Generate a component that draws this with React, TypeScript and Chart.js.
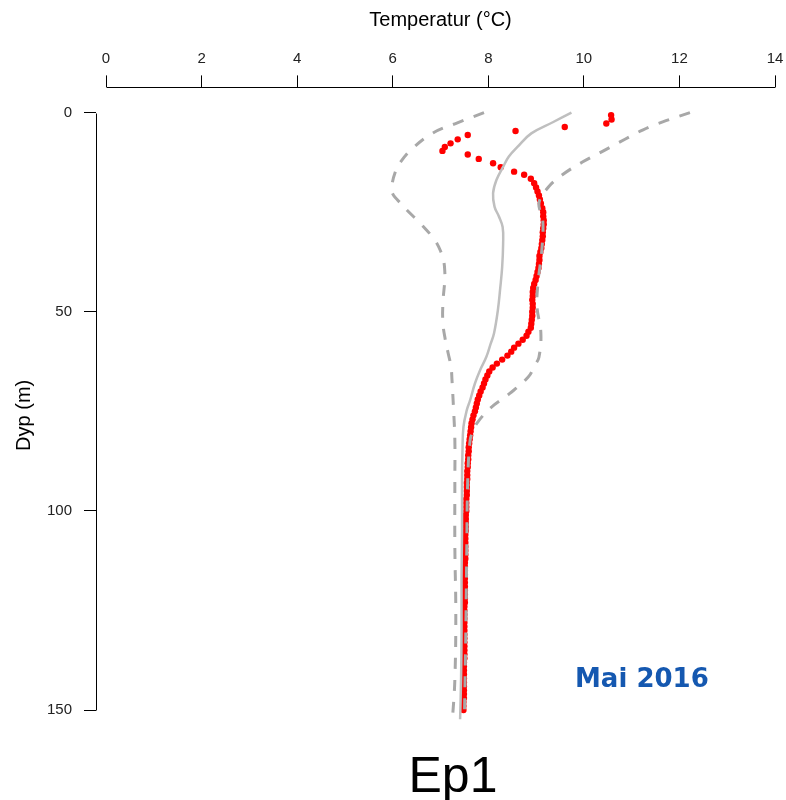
import { useEffect, useRef } from "react";
import { Chart, registerables } from "chart.js";

Chart.register(...registerables);

// ---- Data (temperature °C vs depth m) ----
const obsDepth = [
  0.6, 1.7, 2.7, 3.6, 4.6, 5.6, 6.7, 7.7, 8.6, 9.6, 10.5, 11.6, 12.7, 13.7, 14.8, 15.6, 16.6, 17.7, 18.8, 19.8, 20.8, 21.8, 22.8,
  24, 25, 26, 27, 28, 29, 30, 31, 32, 33,
  34, 35, 36, 37, 38, 39, 40, 41, 42, 43,
  44, 45, 46, 47, 48, 49, 50, 51, 52, 53,
  54, 55, 56, 57, 58, 59, 60, 61, 62, 63,
  64, 65, 66, 67, 68, 69, 70, 71, 72, 73,
  74, 75, 76, 77, 78, 79, 80, 81, 82, 83,
  84, 85, 86, 87, 88, 89, 90, 91, 92, 93,
  94, 95, 96, 97, 98, 99, 100, 101, 102, 103,
  104, 105, 106, 107, 108, 109, 110, 111, 112, 113,
  114, 115, 116, 117, 118, 119, 120, 121, 122, 123,
  124, 125, 126, 127, 128, 129, 130, 131, 132, 133,
  134, 135, 136, 137, 138, 139, 140, 141, 142, 143,
  144, 145, 146, 147, 148, 149, 150,
];
const obsTemp = [
  10.57, 10.58, 10.47, 9.6, 8.57, 7.57, 7.36, 7.21, 7.09, 7.04, 7.57, 7.8, 8.1, 8.26, 8.54, 8.75, 8.89, 8.96, 9.0, 9.03, 9.06, 9.08, 9.1,
  9.13, 9.15, 9.15, 9.16, 9.16, 9.15, 9.14, 9.14, 9.13, 9.12,
  9.11, 9.09, 9.07, 9.07, 9.06, 9.05, 9.03, 9.01, 8.99, 8.96,
  8.94, 8.93, 8.93, 8.92, 8.93, 8.93, 8.92, 8.92, 8.91, 8.9,
  8.89, 8.84, 8.8, 8.72, 8.63, 8.54, 8.48, 8.4, 8.29, 8.18,
  8.09, 8.02, 7.98, 7.94, 7.91, 7.88, 7.84, 7.81, 7.78, 7.76,
  7.74, 7.72, 7.69, 7.67, 7.65, 7.64, 7.63, 7.62, 7.61, 7.6,
  7.59, 7.59, 7.58, 7.58, 7.57, 7.57, 7.56, 7.56, 7.56, 7.55,
  7.55, 7.55, 7.55, 7.54, 7.54, 7.54, 7.54, 7.53, 7.53, 7.53,
  7.53, 7.53, 7.52, 7.52, 7.52, 7.52, 7.52, 7.52, 7.52, 7.51,
  7.51, 7.51, 7.51, 7.51, 7.51, 7.51, 7.51, 7.51, 7.51, 7.51,
  7.5, 7.5, 7.5, 7.5, 7.5, 7.5, 7.5, 7.5, 7.5, 7.5,
  7.5, 7.5, 7.5, 7.5, 7.49, 7.49, 7.49, 7.49, 7.49, 7.49,
  7.49, 7.49, 7.49, 7.49, 7.48, 7.48, 7.48,
];

const meanDepth = [0, 2.4, 5.2, 8.6, 11, 13.6, 16.9, 20.2, 23.6, 26, 28.7, 33, 38.8, 44, 49.6, 55.4, 58, 61.3, 64.6, 68, 72.2, 74.7, 78.9, 84.7, 92, 105, 117, 130, 142, 152.3];
const meanTemp = [9.74, 9.35, 8.9, 8.61, 8.43, 8.31, 8.17, 8.1, 8.13, 8.22, 8.3, 8.31, 8.29, 8.25, 8.2, 8.12, 8.05, 7.96, 7.83, 7.72, 7.62, 7.55, 7.48, 7.46, 7.45, 7.45, 7.44, 7.44, 7.43, 7.41];

const minDepth = [0, 2.6, 5.1, 8.9, 12.6, 15, 17.7, 19.5, 20.8, 21.9, 24.5, 27.7, 32, 35, 37.5, 40, 42, 47.8, 52.8, 57, 60.4, 63.8, 67.1, 73.8, 82.2, 92.2, 109, 125.6, 142.4, 152.3];
const minTemp = [7.91, 7.34, 6.84, 6.42, 6.15, 6.05, 5.99, 5.98, 6.02, 6.1, 6.3, 6.57, 6.88, 7.01, 7.07, 7.09, 7.09, 7.05, 7.05, 7.1, 7.16, 7.22, 7.24, 7.27, 7.3, 7.3, 7.3, 7.32, 7.3, 7.25];

const maxDepth = [0, 2.3, 4.3, 6.6, 9.6, 12.4, 15.6, 18.8, 22.7, 27, 34.5, 42.8, 48.8, 55.3, 61.4, 63.5, 66.3, 70.5, 74.2, 78, 80, 82.2, 92.2, 109, 130, 152.3];
const maxTemp = [12.22, 11.65, 11.24, 10.87, 10.41, 9.97, 9.55, 9.25, 9.06, 9.14, 9.12, 9.04, 9.02, 9.1, 9.06, 8.97, 8.84, 8.45, 8.04, 7.76, 7.68, 7.62, 7.57, 7.55, 7.53, 7.5];

const xTicks = [0, 2, 4, 6, 8, 10, 12, 14];
const yTicks = [0, 50, 100, 150];
const xTitle = "Temperatur (°C)";
const yTitle = "Dyp (m)";
const stationLabel = "Ep1";
const dateLabel = "Mai 2016";

const pts = (xs: number[], ys: number[]) => xs.map((x, i) => ({ x, y: ys[i] }));

const FONT = "'Liberation Sans', Arial, sans-serif";

const annotate = {
  id: "annotate",
  afterDraw(chart: any) {
    const { ctx, scales } = chart;
    const x = scales.x;
    const y = scales.y;
    const top = chart.chartArea.top;
    const left = chart.chartArea.left;
    ctx.save();
    ctx.strokeStyle = "#000";
    ctx.lineWidth = 1;
    ctx.beginPath();
    ctx.moveTo(Math.round(x.getPixelForValue(xTicks[0])) + 0.5, Math.round(top) + 0.5);
    ctx.lineTo(Math.round(x.getPixelForValue(xTicks[xTicks.length - 1])) + 0.5, Math.round(top) + 0.5);
    ctx.moveTo(Math.round(left) + 0.5, Math.round(y.getPixelForValue(yTicks[0])) + 0.5);
    ctx.lineTo(Math.round(left) + 0.5, Math.round(y.getPixelForValue(yTicks[yTicks.length - 1])) + 0.5);
    ctx.stroke();

    ctx.fillStyle = "#000";
    ctx.font = `20px ${FONT}`;
    ctx.textAlign = "center";
    ctx.textBaseline = "middle";
    const xc = (x.getPixelForValue(xTicks[0]) + x.getPixelForValue(xTicks[xTicks.length - 1])) / 2;
    ctx.fillText(xTitle, xc, 12);

    ctx.save();
    ctx.translate(16, y.getPixelForValue(76));
    ctx.rotate(-Math.PI / 2);
    ctx.fillText(yTitle, 0, 0);
    ctx.restore();

    ctx.font = `50px ${FONT}`;
    ctx.textBaseline = "alphabetic";
    ctx.textAlign = "center";
    ctx.fillText(stationLabel, 445, 784);

    ctx.font = "bold 26px 'DejaVu Sans', sans-serif";
    ctx.fillStyle = "#1558b0";
    ctx.textAlign = "left";
    ctx.fillText(dateLabel, 567, 679);
    ctx.restore();
  },
};

export default function App() {
  const ref = useRef<HTMLCanvasElement | null>(null);
  useEffect(() => {
    if (!ref.current) return;
    const dashed = {
      borderColor: "#a8a8a8",
      borderWidth: 3,
      borderDash: [11, 11],
      pointRadius: 0,
      showLine: true,
      tension: 0.4,
      fill: false,
    };
    const chart = new Chart(ref.current, {
      type: "scatter",
      data: {
        datasets: [
          { ...dashed, label: "min", data: pts(minTemp, minDepth) },
          { ...dashed, label: "max", data: pts(maxTemp, maxDepth) },
          {
            label: "mean",
            data: pts(meanTemp, meanDepth),
            borderColor: "#bfbfbf",
            borderWidth: 2.5,
            pointRadius: 0,
            showLine: true,
            tension: 0.4,
            fill: false,
          },
          {
            label: "obs",
            data: pts(obsTemp, obsDepth),
            showLine: false,
            pointRadius: 3.2,
            pointBackgroundColor: "#ff0000",
            pointBorderColor: "#ff0000",
            pointBorderWidth: 0,
          },
        ],
      },
      options: {
        animation: false,
        responsive: false,
        devicePixelRatio: 1,
        layout: { padding: { left: 0, right: 11, top: 0, bottom: 58.1 } },
        plugins: { legend: { display: false }, tooltip: { enabled: false } },
        scales: {
          x: {
            type: "linear",
            position: "top",
            min: -0.21,
            max: 14,
            afterBuildTicks: (s: any) => {
              s.ticks = xTicks.map((v) => ({ value: v }));
            },
            afterFit: (s: any) => {
              s.height = 79.4;
              s.paddingLeft = 0;
              s.paddingRight = 0;
            },
            border: { display: false },
            grid: { drawOnChartArea: false, drawTicks: true, tickLength: 12, color: "#000", lineWidth: 1 },
            ticks: {
              autoSkip: false,
              maxRotation: 0,
              padding: 8,
              color: "#222",
              font: { family: FONT, size: 15 },
            },
          },
          y: {
            type: "linear",
            reverse: true,
            min: -6.35,
            max: 158,
            afterBuildTicks: (s: any) => {
              s.ticks = yTicks.map((v) => ({ value: v }));
            },
            afterFit: (s: any) => {
              s.width = 88;
              s.paddingTop = 0;
              s.paddingBottom = 0;
            },
            border: { display: false },
            grid: { drawOnChartArea: false, drawTicks: true, tickLength: 12, color: "#000", lineWidth: 1 },
            ticks: {
              autoSkip: false,
              padding: 12,
              color: "#222",
              font: { family: FONT, size: 15 },
            },
          },
        },
      },
      plugins: [annotate],
    });
    return () => chart.destroy();
  }, []);
  return (
    <div style={{ position: "fixed", left: 8, top: 8, width: 778, height: 792 }}>
      <canvas ref={ref} width={778} height={792} style={{ display: "block", width: 778, height: 792 }} />
    </div>
  );
}
